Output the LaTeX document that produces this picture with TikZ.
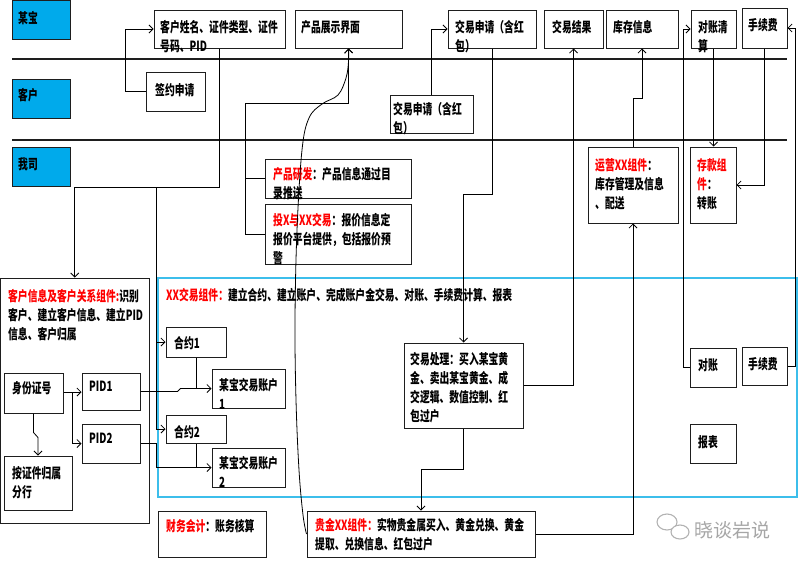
\documentclass[tikz,border=0pt]{standalone}
\usepackage{fontspec}
\newfontfamily\cjk[FakeStretch=0.70]{Noto Sans CJK SC}
\newfontfamily\cjkw{Noto Sans CJK SC}
\usetikzlibrary{arrows.meta,fit,calc}
\definecolor{lane}{RGB}{0,170,235}
\definecolor{xxblue}{RGB}{60,190,235}
\definecolor{rd}{RGB}{255,0,0}
\definecolor{edge}{RGB}{30,30,30}
\begin{document}
\begin{tikzpicture}[x=1pt,y=-1pt,
  bx/.style={draw=edge, line width=1pt, inner sep=0pt},
  lanebox/.style={bx, fill=lane},
  txt/.style={anchor=north west, inner sep=0pt, align=left, yshift=0.5pt, font=\cjk\bfseries\fontsize{14}{19}\selectfont},
  ln/.style={line width=0.8pt, draw=black},
  arr/.style={ln, -{Straight Barb[length=4pt,width=8pt]}},
  lane line/.style={line width=1.1pt, draw=edge},
]
\useasboundingbox (0,0) rectangle (800,565);

% blue component frame (behind)
\node[draw=xxblue, line width=1.3pt, inner sep=0pt, fit={(158,278) (797,497)}] (xx) {};

% lane labels and lane lines
\node[lanebox, fit={(12,0) (70,39)}] (l1) {};
\node[lanebox, fit={(12,79) (70,118)}] (l2) {};
\node[lanebox, fit={(12,147) (70,186)}] (l3) {};
\node[txt] (l1t) at (18,12) {某宝};
\node[txt] (l2t) at (18,88.5) {客户};
\node[txt] (l3t) at (18,157.5) {我司};
\coordinate (la) at (12,59);  \coordinate (lb) at (787,59);
\coordinate (lc) at (12,140); \coordinate (ld) at (787,140);
\draw[lane line] (la) -- (lb);
\draw[lane line] (lc) -- (ld);

% top lane boxes
\node[bx, fit={(154,10) (285,48)}] (kh) {};
\node[txt] (kht) at (160,20.4) {客户姓名、证件类型、证件\\号码、PID};
\node[bx, fit={(295,10) (402,48)}] (cp) {};
\node[txt] (cpt) at (301,20.4) {产品展示界面};
\node[bx, fit={(448,10) (536,48)}] (jy1) {};
\node[txt] (jy1t) at (455,20.4) {交易申请（含红\\包）};
\node[bx, fit={(544,10) (603,48)}] (jg) {};
\node[txt] (jgt) at (552,20.4) {交易结果};
\node[bx, fit={(606,10) (678,48)}] (kc) {};
\node[txt] (kct) at (613,20.4) {库存信息};
\node[bx, fit={(691,10) (736,48)}] (dzq) {};
\node[txt] (dzqt) at (698,20.4) {对账清\\算};
\node[bx, fit={(742,8) (787,48)}] (sxf1) {};
\node[txt] (sxf1t) at (748,18.4) {手续费};

% customer lane
\node[bx, fit={(146,72) (205,111)}] (qy) {};
\node[txt] (qyt) at (155,83.4) {签约申请};
\node[bx, fit={(390,95) (473,133)}] (jy2) {};
\node[txt] (jy2t) at (393,102.4) {交易申请（含红\\包）};

% our company lane
\node[bx, fit={(265,159) (411,198)}] (yf) {};
\node[txt] (yft) at (273,167.4) {{\color{rd}产品研发}：产品信息通过目\\录推送};
\node[bx, fit={(265,204) (411,264)}] (tx) {};
\node[txt] (txt1) at (273,213.4) {{\color{rd}投X与XX交易}：报价信息定\\报价平台提供，包括报价预\\警};
\node[bx, fit={(588,147) (678,223)}] (yy) {};
\node[txt] (yyt) at (595,158.4) {{\color{rd}运营XX组件}：\\库存管理及信息\\、配送};
\node[bx, fit={(690,147) (736,223)}] (ck) {};
\node[txt] (ckt) at (697,158.4) {{\color{rd}存款组}\\{\color{rd}件}：\\转账};

% customer info component
\node[bx, fit={(0.5,278) (149,523)}] (big) {};
\node[txt] (bigt) at (8,289.4) {{\color{rd}客户信息及客户关系组件:}识别\\客户、建立客户信息、建立PID\\信息、客户归属};
\node[bx, fit={(4,373) (63,413)}] (sfz) {};
\node[txt] (sfzt) at (12,381.4) {身份证号};
\node[bx, fit={(82,373) (140,410)}] (pid1) {};
\node[txt] (pid1t) at (89,381.4) {PID1};
\node[bx, fit={(82,424) (140,463)}] (pid2) {};
\node[txt] (pid2t) at (89,433.4) {PID2};
\node[bx, fit={(4,456) (72,510)}] (fh) {};
\node[txt] (fht) at (12,466.4) {按证件归属\\分行};

% XX trade component
\node[txt] (xxt) at (166,288.4) {{\color{rd}XX交易组件：}建立合约、建立账户、完成账户金交易、对账、手续费计算、报表};
\node[bx, fit={(166,327) (226,357)}] (hy1) {};
\node[txt] (hy1t) at (174,336.4) {合约1};
\node[bx, fit={(212,369) (285,408)}] (zh1) {};
\node[txt] (zh1t) at (219,378.4) {某宝交易账户\\1};
\node[bx, fit={(166,415) (226,443)}] (hy2) {};
\node[txt] (hy2t) at (174,425.4) {合约2};
\node[bx, fit={(212,448) (285,487)}] (zh2) {};
\node[txt] (zh2t) at (219,456.4) {某宝交易账户\\2};
\node[bx, fit={(404,343) (523,428)}] (cl) {};
\node[txt] (clt) at (410,352.4) {交易处理：买入某宝黄\\金、卖出某宝黄金、成\\交逻辑、数值控制、红\\包过户};
\node[bx, fit={(690,348) (736,387)}] (dz) {};
\node[txt] (dzt) at (698,358.4) {对账};
\node[bx, fit={(742,347) (787,385)}] (sxf2) {};
\node[txt] (sxf2t) at (748,357.4) {手续费};
\node[bx, fit={(690,424) (736,463)}] (bb) {};
\node[txt] (bbt) at (698,435.4) {报表};

% bottom boxes
\node[bx, fit={(158,511) (266,557)}] (cw) {};
\node[txt] (cwt) at (166,519.4) {{\color{rd}财务会计}：账务核算};
\node[bx, fit={(307,511) (535,557)}] (gj) {};
\node[txt] (gjt) at (315,518.4) {{\color{rd}贵金XX组件：}实物贵金属买入、黄金兑换、黄金\\提取、兑换信息、红包过户};

% helper coordinates
\coordinate (j1) at (156,187);
\coordinate (k1) at (245,103);
\coordinate (k2) at (463.5,194);
\coordinate (k3) at (421,469);
\coordinate (k4) at (633,98);
\coordinate (k5) at (683,0);
\coordinate (k6) at (795,0);
\coordinate (k7) at (72,392);

% connectors
\draw[arr] (qy.west) -- ++(-20,0) |- (kh.west);
\draw[arr] (kh.south) |- (big.north |- j1) -- (big.north);
\draw[arr] (j1) |- (hy1.west);
\draw[arr] (j1) |- (hy2.west);
\draw[arr] (tx.west) -| (k1) -| (cp.south);
\draw[ln] (yf.west) -- (yf.west -| k1);
\draw[arr] plot[smooth, tension=0.6] coordinates {(gj.west) (303,515) (299,470) (296,400) (295,320) (297,230) (302,150) (309,118) (322,104) (338,95) (346,78) (348.5,62) (cp.south)};
\draw[arr] (jy2.north) |- (jy1.west);
\draw[arr] (jy1.south) |- (k2) -- (cl.north);
\draw[arr] (cl.east) -| (jg.south);
\draw[arr] (cl.south) |- (k3) -- (gj.north);
\draw[arr] (gj.east) -| (yy.south);
\draw[arr] (yy.north) -- (k4) -| (kc.south);
\draw[arr] (dzq.south) -- (dzq.south |- ck.north);
\draw[arr] (dz.west) -- (dz.west -| k5) |- (dzq.west);
\draw[arr] (sxf1.south) |- (ck.east);
\draw[arr] (sxf2.east) -- (sxf2.east -| k6) |- (sxf1.east);
\draw[arr] (sfz.east |- k7) -- (pid1.west |- k7);
\draw[arr] (k7) |- (pid2.west);
\draw[arr] (sfz.south) -- ++(0,19) -- ($(fh.north)+(0,-18)$) -- (fh.north);
\draw[arr] (pid1.east) -- ++(37,0) -- ++(3,-3) -- (zh1.west);
\draw[ln] (hy1.south) -- (hy1.south |- zh1.west);
\draw[arr] (pid2.east) -- (pid2.east -| j1) |- (zh2.west);
\draw[ln] (hy2.south) -- (hy2.south |- zh2.west);

% watermark
\draw[gray!60, line width=1.1pt] (667,522) ellipse (10 and 8);
\draw[gray!60, line width=1.1pt, fill=white] (680,532) ellipse (9 and 7);
\node[font=\cjkw\fontsize{19}{19}\selectfont, text=gray!70, anchor=west, inner sep=0pt] (wm) at (694,530) {晓谈岩说};
\end{tikzpicture}
\end{document}
